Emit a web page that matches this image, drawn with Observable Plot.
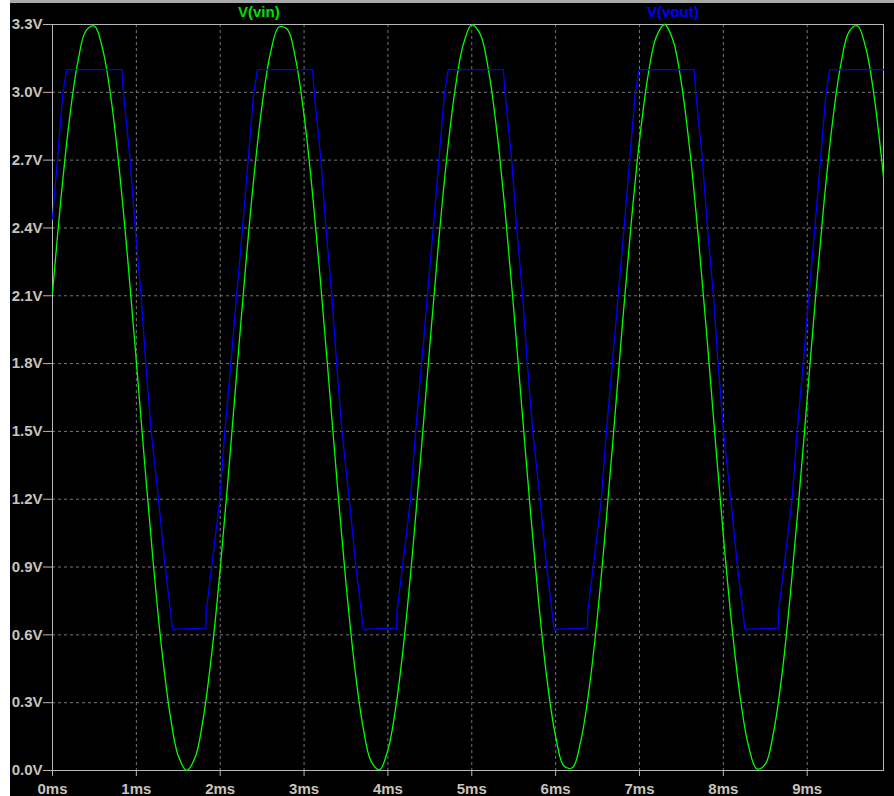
<!DOCTYPE html>
<html><head><meta charset="utf-8">
<script src="https://cdn.jsdelivr.net/npm/d3@7"></script>
<script src="https://cdn.jsdelivr.net/npm/@observablehq/plot@0.6"></script>
<style>
html,body{margin:0;padding:0;background:#fff;}
#wrap{position:absolute;left:10px;top:0;width:884px;height:796px;background:#000;border-top:3px solid #a8a8a8;box-sizing:border-box;}
.lg{position:absolute;top:0px;font:bold 15px "Liberation Sans",Arial,sans-serif;line-height:17px;white-space:nowrap;}
#chart svg{display:block;}
</style></head><body>
<div id="wrap">
<div id="chart"></div>
<span class="lg" style="left:228px;color:#00e000">V(vin)</span>
<span class="lg" style="left:637px;color:#0000ff">V(vout)</span>
</div>
<script>
// Tick values
const xTicks = [0, 1, 2, 3, 4, 5, 6, 7, 8, 9];
const yTicks = [0, 0.3, 0.6, 0.9, 1.2, 1.5, 1.8, 2.1, 2.4, 2.7, 3.0, 3.3];
const xDomain = [0, 9.91];
const yDomain = [0, 3.3];

const vinTime = [0.0,0.1,0.2,0.3,0.4,0.5,0.6,0.7,0.8,0.9,1.0,1.1,1.2,1.3,1.4,1.5,1.6,1.7,1.8,1.9,
  2.0,2.1,2.2,2.3,2.4,2.5,2.6,2.7,2.8,2.9,3.0,3.1,3.2,3.3,3.4,3.5,3.6,3.7,3.8,3.9,
  4.0,4.1,4.2,4.3,4.4,4.5,4.6,4.7,4.8,4.9,5.0,5.1,5.2,5.3,5.4,5.5,5.6,5.7,5.8,5.9,
  6.0,6.1,6.2,6.3,6.4,6.5,6.6,6.7,6.8,6.9,7.0,7.1,7.2,7.3,7.4,7.5,7.6,7.7,7.8,7.9,
  8.0,8.1,8.2,8.3,8.4,8.5,8.6,8.7,8.8,8.9,9.0,9.1,9.2,9.3,9.4,9.5,9.6,9.7,9.8,9.9,9.91];
const vinVolt = [2.113,2.527,2.875,3.130,3.273,3.293,3.188,2.967,2.646,2.249,
  1.809,1.356,0.924,0.546,0.253,0.065,0.000,0.057,0.236,0.521,
  0.891,1.320,1.773,2.217,2.618,2.945,3.175,3.289,3.279,3.146,
  2.899,2.556,2.145,1.700,1.249,0.828,0.469,0.200,0.040,0.003,
  0.091,0.296,0.603,0.992,1.427,1.881,2.318,2.704,3.010,3.213,
  3.298,3.258,3.097,2.824,2.464,2.041,1.591,1.145,0.735,0.394,
  0.151,0.020,0.012,0.131,0.362,0.689,1.092,1.536,1.989,2.416,
  2.786,3.069,3.245,3.300,3.230,3.040,2.745,2.367,1.936,1.482,
  1.040,0.646,0.327,0.109,0.007,0.028,0.172,0.426,0.783,1.198,
  1.645,2.095,2.511,2.862,3.121,3.269,3.294,3.195,2.978,2.661,2.624];

// V(vout): corner points
const voutTime = [0, 0.058, 0.125,
  0.170, 0.827, 0.846, 0.926, 0.986, 1.057, 1.113, 1.177, 1.264, 1.344, 1.431, 1.450, 1.470, 1.830, 1.832, 1.898, 1.995, 2.055, 2.127, 2.195, 2.266, 2.333, 2.400,
  2.445, 3.102, 3.121, 3.201, 3.261, 3.332, 3.388, 3.452, 3.539, 3.619, 3.706, 3.725, 3.745, 4.105, 4.107, 4.173, 4.270, 4.330, 4.402, 4.470, 4.541, 4.608, 4.675,
  4.720, 5.377, 5.396, 5.476, 5.536, 5.607, 5.663, 5.727, 5.814, 5.894, 5.981, 6.000, 6.020, 6.380, 6.382, 6.448, 6.545, 6.605, 6.677, 6.745, 6.816, 6.883, 6.950,
  6.995, 7.652, 7.671, 7.751, 7.811, 7.882, 7.938, 8.002, 8.089, 8.169, 8.256, 8.275, 8.295, 8.655, 8.657, 8.723, 8.820, 8.880, 8.952, 9.020, 9.091, 9.158, 9.225,
  9.270, 9.910];
const voutVolt = [2.44, 2.70, 3.00,
  3.10, 3.10, 3.00, 2.70, 2.40, 2.10, 1.80, 1.50, 1.20, 0.90, 0.63, 0.62, 0.625, 0.63, 0.70, 0.90, 1.20, 1.50, 1.80, 2.10, 2.40, 2.70, 3.00,
  3.10, 3.10, 3.00, 2.70, 2.40, 2.10, 1.80, 1.50, 1.20, 0.90, 0.63, 0.62, 0.625, 0.63, 0.70, 0.90, 1.20, 1.50, 1.80, 2.10, 2.40, 2.70, 3.00,
  3.10, 3.10, 3.00, 2.70, 2.40, 2.10, 1.80, 1.50, 1.20, 0.90, 0.63, 0.62, 0.625, 0.63, 0.70, 0.90, 1.20, 1.50, 1.80, 2.10, 2.40, 2.70, 3.00,
  3.10, 3.10, 3.00, 2.70, 2.40, 2.10, 1.80, 1.50, 1.20, 0.90, 0.63, 0.62, 0.625, 0.63, 0.70, 0.90, 1.20, 1.50, 1.80, 2.10, 2.40, 2.70, 3.00,
  3.10, 3.10];

const vin = vinTime.map((t, i) => ({t, v: vinVolt[i]}));
const vout = voutTime.map((t, i) => ({t, v: voutVolt[i]}));

const font = '"Liberation Sans", Arial, sans-serif';
const chart = Plot.plot({
  width: 884,
  height: 793,
  marginLeft: 42,
  marginRight: 11,
  marginTop: 21,
  marginBottom: 26,
  style: {background: "#000", color: "#c8c4bc", fontFamily: font, fontSize: "15px", fontWeight: "bold", overflow: "visible"},
  x: {domain: xDomain},
  y: {domain: yDomain},
  marks: [
    Plot.gridX(xTicks, {stroke: "#767676", strokeOpacity: 1, strokeDasharray: "3,3"}),
    Plot.gridY(yTicks, {stroke: "#767676", strokeOpacity: 1, strokeDasharray: "3,3"}),
    Plot.frame({stroke: "#b8b8b8"}),
    Plot.axisX(xTicks, {tickFormat: d => d + "ms", tickSize: 6, tickPadding: 7, stroke: "#b8b8b8", fill: "#c8c4bc", label: null}),
    Plot.axisY(yTicks, {tickFormat: d => d.toFixed(1) + "V", tickSize: 9, tickPadding: 1, stroke: "#b8b8b8", fill: "#c8c4bc", label: null}),
    Plot.line(vin, {x: "t", y: "v", stroke: "#00ff00", strokeWidth: 1.3, curve: "catmull-rom"}),
    Plot.line(vout, {x: "t", y: "v", stroke: "#0000ff", strokeWidth: 1.3})
  ]
});
document.getElementById("chart").appendChild(chart);
</script>
</body></html>
